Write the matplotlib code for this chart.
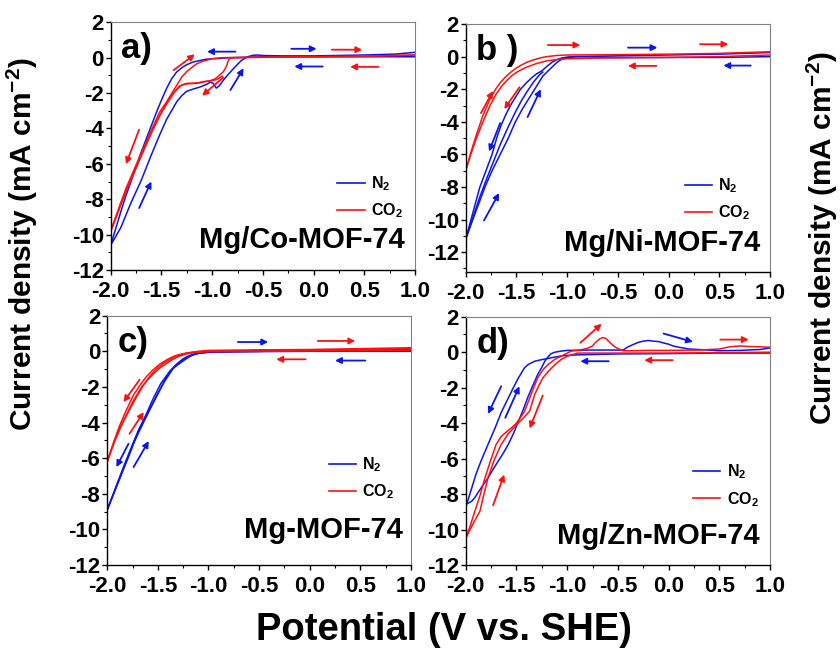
import matplotlib
matplotlib.use("Agg")
import matplotlib.pyplot as plt
from matplotlib.lines import Line2D
from matplotlib.ticker import MultipleLocator

plt.rcParams['font.family'] = ['Liberation Sans', 'DejaVu Sans']
plt.rcParams['font.weight'] = 'bold'
plt.rcParams['axes.unicode_minus'] = False
plt.rcParams['mathtext.fontset'] = 'custom'
plt.rcParams['mathtext.rm'] = 'Liberation Sans:bold'
plt.rcParams['mathtext.bf'] = 'Liberation Sans:bold'
plt.rcParams['mathtext.default'] = 'rm'

BLUE = '#0a14f0'
RED = '#ff1010'

# ---------------- panel a: Mg/Co-MOF-74 ----------------
a_n2_x1 = [1.0, 0.5, 0.0, -0.5, -0.8, -0.92, -1.0, -1.06, -1.12, -1.19, -1.25, -1.29, -1.35, -1.4, -1.45, -1.5, -1.55, -1.6, -1.7, -1.8, -1.85, -1.9, -2.0]
a_n2_y1 = [0.05, 0.05, 0.05, 0.05, 0.0, -0.04, -0.06, -0.09, -0.16, -0.25, -0.4, -0.53, -0.81, -1.2, -1.75, -2.4, -3.1, -3.85, -5.35, -7.0, -7.8, -8.7, -10.6]
a_n2_x2 = [-2.0, -1.9, -1.85, -1.8, -1.7, -1.6, -1.52, -1.45, -1.4, -1.35, -1.3, -1.25, -1.2, -1.12, -1.05, -1.02, -0.99, -0.96, -0.93, -0.89, -0.85, -0.79, -0.75, -0.71, -0.65, -0.6, -0.55, -0.5, -0.3, 0.0, 0.5, 0.8, 1.0]
a_n2_y2 = [-10.6, -9.6, -8.9, -8.2, -6.95, -5.5, -4.4, -3.5, -3.0, -2.5, -2.15, -1.9, -1.8, -1.66, -1.5, -1.38, -1.45, -1.72, -1.6, -1.28, -1.0, -0.62, -0.38, -0.15, 0.05, 0.13, 0.15, 0.12, 0.1, 0.1, 0.15, 0.2, 0.3]
a_co2_x1 = [1.0, 0.5, 0.0, -0.5, -0.9, -1.0, -1.1, -1.15, -1.2, -1.25, -1.3, -1.38, -1.45, -1.52, -1.6, -1.68, -1.76, -1.85, -1.92, -2.0]
a_co2_y1 = [0.15, 0.08, 0.05, 0.03, 0.0, -0.06, -0.22, -0.34, -0.55, -0.78, -1.1, -1.85, -2.5, -3.1, -4.1, -5.15, -6.2, -7.4, -8.5, -9.8]
a_co2_x2 = [-2.0, -1.92, -1.85, -1.76, -1.68, -1.6, -1.52, -1.45, -1.38, -1.32, -1.27, -1.22, -1.15, -1.09, -1.02, -0.97, -0.93, -0.89, -0.86, -0.84, -0.82, -0.7, -0.5, 0.0, 0.5, 1.0]
a_co2_y2 = [-9.8, -8.6, -7.55, -6.35, -5.3, -4.25, -3.3, -2.6, -2.0, -1.6, -1.5, -1.47, -1.45, -1.38, -1.3, -1.2, -1.0, -0.8, -0.5, -0.15, -0.02, 0.0, 0.02, 0.05, 0.08, 0.15]
a_co2_x3 = [-2.0, -1.9, -1.8, -1.7, -1.6, -1.5, -1.42, -1.36, -1.3, -1.25, -1.2, -1.14, -1.08, -1.0, -0.95, -0.9]
a_co2_y3 = [-9.8, -8.3, -6.9, -5.55, -4.25, -3.1, -2.35, -1.85, -1.55, -1.45, -1.45, -1.42, -1.35, -1.3, -1.22, -1.05]
a_arrows = [(RED, -1.38, -0.71, -1.17, 0.19), (BLUE, -0.77, 0.34, -1.05, 0.34),
            (BLUE, -0.82, -1.83, -0.69, -0.6), (RED, -0.89, -1.12, -1.10, -2.15),
            (RED, -1.72, -4.07, -1.85, -6.02), (BLUE, -1.72, -8.5, -1.6, -7.0),
            (BLUE, -0.22, 0.5, 0.03, 0.5), (RED, 0.18, 0.45, 0.48, 0.45),
            (BLUE, 0.09, -0.5, -0.19, -0.5), (RED, 0.64, -0.52, 0.36, -0.52)]

# ---------------- panel b: Mg/Ni-MOF-74 ----------------
b_n2_x1 = [-2.0, -1.93, -1.86, -1.8, -1.74, -1.69, -1.65, -1.6, -1.55, -1.5, -1.46, -1.4, -1.35, -1.3, -1.25, -1.2, -1.15, -1.1, -1.05, -1.0, -0.9, -0.5, 0.0, 0.5, 1.0]
b_n2_y1 = [-11.2, -9.6, -8.0, -7.0, -6.0, -4.9, -4.2, -3.5, -2.9, -2.4, -2.0, -1.6, -1.3, -1.05, -0.88, -0.6, -0.35, -0.18, -0.08, -0.03, 0.0, 0.05, 0.1, 0.15, 0.25]
b_n2_x2 = [-2.0, -1.93, -1.87, -1.81, -1.74, -1.66, -1.58, -1.51, -1.44, -1.38, -1.32, -1.28, -1.24, -1.2, -1.15, -1.1, -1.05, -1.0, -0.95, -0.9, -0.5, 0.0, 0.5, 1.0]
b_n2_y2 = [-11.2, -10.0, -9.0, -8.0, -7.0, -6.0, -5.0, -4.0, -3.2, -2.6, -2.0, -1.6, -1.2, -0.95, -0.65, -0.35, -0.15, -0.06, -0.02, 0.0, -0.05, -0.05, -0.05, 0.0]
b_n2_x3 = [-2.0, -1.93, -1.86, -1.8, -1.73, -1.66, -1.58, -1.51, -1.45, -1.39, -1.33, -1.27, -1.24]
b_n2_y3 = [-11.2, -9.9, -8.6, -7.6, -6.5, -5.4, -4.3, -3.4, -2.7, -2.1, -1.55, -1.1, -0.95]
b_co2_x1 = [-2.0, -1.95, -1.9, -1.83, -1.76, -1.7, -1.65, -1.6, -1.55, -1.5, -1.45, -1.4, -1.35, -1.3, -1.25, -1.2, -1.1, -1.0, -0.5, 0.0, 0.5, 1.0]
b_co2_y1 = [-7.0, -5.9, -4.9, -3.6, -2.6, -1.95, -1.53, -1.2, -0.93, -0.7, -0.51, -0.36, -0.24, -0.14, -0.06, 0.0, 0.07, 0.1, 0.12, 0.15, 0.2, 0.3]
b_co2_x2 = [-2.0, -1.95, -1.9, -1.83, -1.76, -1.7, -1.65, -1.6, -1.55, -1.5, -1.45, -1.4, -1.3, -1.2, -1.1, -1.0, -0.8, -0.5, 0.0, 0.5, 1.0]
b_co2_y2 = [-7.0, -6.0, -5.1, -4.0, -3.0, -2.3, -1.85, -1.5, -1.2, -0.97, -0.8, -0.65, -0.42, -0.26, -0.18, -0.13, -0.1, -0.08, -0.05, 0.0, 0.1]
b_arrows = [(RED, -1.19, 0.71, -0.87, 0.71), (BLUE, -0.40, 0.55, -0.11, 0.55),
            (RED, 0.31, 0.76, 0.59, 0.76), (RED, -0.12, -0.57, -0.40, -0.57),
            (BLUE, 0.81, -0.55, 0.54, -0.55), (RED, -1.85, -3.47, -1.73, -2.10),
            (RED, -1.47, -1.88, -1.62, -3.22), (BLUE, -1.66, -4.08, -1.77, -5.82),
            (BLUE, -1.39, -3.71, -1.26, -2.0), (BLUE, -1.82, -10.06, -1.67, -8.37)]

# ---------------- panel c: Mg-MOF-74 ----------------
c_n2_x1 = [-2.0, -1.9, -1.8, -1.74, -1.66, -1.58, -1.5, -1.41, -1.35, -1.3, -1.27, -1.22, -1.18, -1.13, -1.08, -1.0, -0.8, -0.5, 0.0, 0.5, 1.0]
c_n2_y1 = [-8.9, -7.45, -6.05, -5.15, -4.2, -3.28, -2.35, -1.4, -0.95, -0.75, -0.62, -0.42, -0.28, -0.16, -0.09, -0.04, 0.0, 0.05, 0.07, 0.1, 0.15]
c_n2_x2 = [-2.0, -1.92, -1.84, -1.77, -1.69, -1.62, -1.55, -1.47, -1.38, -1.32, -1.27, -1.22, -1.18, -1.13, -1.08, -1.0, -0.8, -0.5, 0.0, 0.5, 1.0]
c_n2_y2 = [-8.9, -7.7, -6.5, -5.5, -4.4, -3.6, -2.7, -1.8, -1.1, -0.75, -0.55, -0.38, -0.25, -0.15, -0.1, -0.06, -0.04, -0.02, 0.0, 0.0, 0.0]
c_n2_x3 = [-2.0, -1.93, -1.86, -1.79, -1.72, -1.65, -1.58, -1.51, -1.44, -1.36, -1.3, -1.25, -1.2, -1.15, -1.1, -1.0, -0.8, -0.5, 0.0, 0.5, 1.0]
c_n2_y3 = [-8.9, -7.9, -6.9, -5.9, -4.9, -4.0, -3.25, -2.5, -1.75, -1.05, -0.65, -0.42, -0.27, -0.17, -0.1, -0.05, -0.02, 0.0, 0.02, 0.05, 0.1]
c_co2_x1 = [-2.0, -1.94, -1.88, -1.81, -1.74, -1.67, -1.61, -1.55, -1.48, -1.41, -1.35, -1.3, -1.22, -1.1, -1.0, -0.5, 0.0, 0.5, 1.0]
c_co2_y1 = [-6.18, -5.15, -4.2, -3.28, -2.45, -1.85, -1.4, -1.05, -0.72, -0.47, -0.3, -0.2, -0.1, 0.0, 0.05, 0.08, 0.1, 0.15, 0.2]
c_co2_x2 = [-2.0, -1.93, -1.86, -1.78, -1.7, -1.64, -1.58, -1.52, -1.45, -1.38, -1.32, -1.25, -1.15, -1.0, -0.5, 0.0, 0.5, 1.0]
c_co2_y2 = [-6.18, -5.05, -4.15, -3.28, -2.45, -1.88, -1.4, -1.02, -0.7, -0.45, -0.3, -0.15, -0.05, 0.0, 0.0, 0.02, 0.03, 0.05]
c_co2_x3 = [-2.0, -1.92, -1.84, -1.74, -1.66, -1.6, -1.55, -1.49, -1.42, -1.36, -1.3, -1.22, -1.12, -1.0, -0.5, 0.0, 0.5, 1.0]
c_co2_y3 = [-6.18, -4.95, -3.9, -2.75, -2.0, -1.6, -1.3, -0.98, -0.7, -0.47, -0.3, -0.15, -0.06, -0.02, 0.0, 0.05, 0.1, 0.15]
c_arrows = [(BLUE, -0.71, 0.52, -0.41, 0.52), (RED, 0.08, 0.58, 0.45, 0.58),
            (RED, -0.04, -0.45, -0.33, -0.45), (BLUE, 0.55, -0.52, 0.25, -0.52),
            (RED, -1.68, -1.59, -1.84, -2.85), (RED, -1.78, -4.63, -1.64, -3.41),
            (BLUE, -1.79, -5.19, -1.91, -6.5), (BLUE, -1.74, -6.5, -1.59, -5.04)]

# ---------------- panel d: Mg/Zn-MOF-74 ----------------
d_n2_x1 = [1.0, 0.5, 0.0, -0.5, -0.9, -1.05, -1.16, -1.25, -1.32, -1.38, -1.42, -1.48, -1.53, -1.58, -1.65, -1.71, -1.78, -1.85, -1.9, -1.94, -1.97, -1.99]
d_n2_y1 = [-0.05, -0.05, -0.08, -0.1, -0.15, -0.2, -0.32, -0.42, -0.51, -0.68, -0.88, -1.45, -2.0, -2.58, -3.4, -4.27, -5.2, -6.15, -6.9, -7.65, -8.2, -8.55]
d_n2_x2 = [-1.99, -1.97, -1.94, -1.91, -1.88, -1.83, -1.78, -1.73, -1.68, -1.63, -1.58, -1.53, -1.48, -1.43, -1.39, -1.34, -1.29, -1.25, -1.22, -1.19, -1.16, -1.12, -1.06, -1.0, -0.8, -0.6, -0.5, -0.45, -0.4, -0.35, -0.3, -0.25, -0.2, -0.15, -0.1, -0.05, 0.0, 0.05, 0.1, 0.2, 0.3, 0.5, 0.7, 0.9, 1.0]
d_n2_y2 = [-8.55, -8.5, -8.4, -8.2, -7.93, -7.5, -7.09, -6.6, -6.15, -5.7, -5.2, -4.6, -3.9, -3.2, -2.58, -1.9, -1.26, -0.85, -0.51, -0.28, -0.09, 0.0, 0.06, 0.1, 0.12, 0.12, 0.12, 0.12, 0.3, 0.43, 0.55, 0.62, 0.66, 0.62, 0.6, 0.52, 0.45, 0.34, 0.28, 0.18, 0.15, 0.08, 0.1, 0.15, 0.24]
d_co2_x1 = [-2.0, -1.95, -1.91, -1.86, -1.81, -1.76, -1.7, -1.65, -1.6, -1.55, -1.5, -1.45, -1.42, -1.37, -1.33, -1.29, -1.24, -1.19, -1.12, -1.06, -0.96, -0.9, -0.85, -0.8, -0.75, -0.72, -0.68, -0.65, -0.62, -0.58, -0.53, -0.48, -0.44, -0.4, -0.2, 0.0, 0.3, 0.5, 0.6, 0.7, 0.8, 0.9, 1.0]
d_co2_y1 = [-10.5, -9.7, -8.97, -8.1, -7.09, -6.2, -5.2, -4.75, -4.5, -4.27, -4.0, -3.6, -3.33, -2.6, -2.0, -1.45, -1.0, -0.7, -0.4, -0.23, 0.06, 0.1, 0.15, 0.22, 0.35, 0.55, 0.75, 0.82, 0.78, 0.55, 0.3, 0.15, 0.08, 0.08, 0.1, 0.1, 0.12, 0.18, 0.3, 0.35, 0.32, 0.3, 0.28]
d_co2_x2 = [-2.0, -1.93, -1.86, -1.82, -1.78, -1.72, -1.65, -1.58, -1.5, -1.43, -1.37, -1.32, -1.28, -1.24, -1.18, -1.12, -1.06, -1.0, -0.9, -0.7, -0.5, 0.0, 0.5, 1.0]
d_co2_y2 = [-10.5, -9.7, -8.97, -8.0, -7.09, -6.1, -5.2, -4.6, -4.1, -3.7, -3.33, -2.39, -1.9, -1.45, -1.05, -0.7, -0.42, -0.23, -0.05, -0.05, -0.05, -0.05, -0.03, 0.0]
d_arrows = [(RED, -0.87, 0.53, -0.66, 1.6), (BLUE, -0.05, 1.05, 0.24, 0.58),
            (RED, 0.51, 0.71, 0.79, 0.71), (BLUE, -0.59, -0.51, -0.87, -0.51),
            (RED, 0.04, -0.45, -0.24, -0.45), (BLUE, -1.65, -1.92, -1.78, -3.48),
            (BLUE, -1.61, -3.70, -1.47, -1.92), (RED, -1.24, -2.44, -1.37, -4.30),
            (RED, -1.73, -8.63, -1.62, -6.9)]

x_ticks = [-2.0, -1.5, -1.0, -0.5, 0.0, 0.5, 1.0]
x_ticklabels = ['-2.0', '-1.5', '-1.0', '-0.5', '0.0', '0.5', '1.0']
y_ticks = [2, 0, -2, -4, -6, -8, -10, -12]
y_ticklabels = ['2', '0', '-2', '-4', '-6', '-8', '-10', '-12']

panels = [
    dict(rect=[0.1318, 0.5853, 0.3623, 0.3805], ylim=(-12, 2), letter='a)', name='Mg/Co-MOF-74',
         n2=[(a_n2_x1, a_n2_y1), (a_n2_x2, a_n2_y2)],
         co2=[(a_co2_x1, a_co2_y1), (a_co2_x2, a_co2_y2), (a_co2_x3, a_co2_y3)],
         arrows=a_arrows, leg=(0.745, 0.293), namepos=(0.967, 0.12)),
    dict(rect=[0.5544, 0.5826, 0.3623, 0.3805], ylim=(-13.2, 2), letter='b )', name='Mg/Ni-MOF-74',
         n2=[(b_n2_x1, b_n2_y1), (b_n2_x2, b_n2_y2), (b_n2_x3, b_n2_y3)],
         co2=[(b_co2_x1, b_co2_y1), (b_co2_x2, b_co2_y2)],
         arrows=b_arrows, leg=(0.72, 0.292), namepos=(0.967, 0.116)),
    dict(rect=[0.1277, 0.1321, 0.3615, 0.3830], ylim=(-12, 2), letter='c)', name='Mg-MOF-74',
         n2=[(c_n2_x1, c_n2_y1), (c_n2_x2, c_n2_y2), (c_n2_x3, c_n2_y3)],
         co2=[(c_co2_x1, c_co2_y1), (c_co2_x2, c_co2_y2), (c_co2_x3, c_co2_y3)],
         arrows=c_arrows, leg=(0.729, 0.348), namepos=(0.974, 0.14)),
    dict(rect=[0.5544, 0.1321, 0.3623, 0.3814], ylim=(-12, 2), letter='d)', name='Mg/Zn-MOF-74',
         n2=[(d_n2_x1, d_n2_y1), (d_n2_x2, d_n2_y2)],
         co2=[(d_co2_x1, d_co2_y1), (d_co2_x2, d_co2_y2)],
         arrows=d_arrows, leg=(0.747, 0.32), namepos=(0.967, 0.117)),
]

fig = plt.figure(figsize=(8.4, 6.51), dpi=100)

for p in panels:
    ax = fig.add_axes(p['rect'])
    for x, y in p['n2']:
        ax.plot(x, y, color=BLUE, lw=1.1)
    for x, y in p['co2']:
        ax.plot(x, y, color=RED, lw=1.1)
    for col, x0, y0, x1, y1 in p['arrows']:
        ax.annotate('', xy=(x1, y1), xytext=(x0, y0),
                    arrowprops=dict(arrowstyle='-|>', color=col, lw=1.3,
                                    mutation_scale=9, shrinkA=0, shrinkB=0))
    ax.set_xlim(-2.0, 1.0)
    ax.set_ylim(*p['ylim'])
    ax.xaxis.set_minor_locator(MultipleLocator(0.25))
    ax.yaxis.set_minor_locator(MultipleLocator(1))
    ax.set_xticks(x_ticks)
    ax.set_xticklabels(x_ticklabels)
    ax.set_yticks(y_ticks)
    ax.set_yticklabels(y_ticklabels)
    ax.tick_params(axis='both', which='major', direction='out', length=3.5, width=1,
                   labelsize=16)
    ax.tick_params(axis='x', which='major', pad=4.5)
    ax.tick_params(axis='y', which='major', pad=1.5)
    ax.tick_params(axis='both', which='minor', direction='out', length=2.2, width=0.8)
    for lab in ax.get_xticklabels() + ax.get_yticklabels():
        lab.set_fontweight('bold')
    ax.spines['top'].set_color('#808080')
    ax.spines['right'].set_color('#808080')
    ax.spines['top'].set_linewidth(0.8)
    ax.spines['right'].set_linewidth(0.8)
    ax.spines['left'].set_linewidth(1.0)
    ax.spines['bottom'].set_linewidth(1.0)
    ax.text(0.035, 0.96, p['letter'], transform=ax.transAxes, ha='left', va='top',
            fontsize=25, fontweight='bold')
    ax.text(p['namepos'][0], p['namepos'][1], p['name'], transform=ax.transAxes,
            ha='right', va='center', fontsize=21, fontweight='bold')
    handles = [Line2D([], [], color=BLUE, lw=1.2), Line2D([], [], color=RED, lw=1.2)]
    ax.legend(handles, ['N$_2$', 'CO$_2$'], loc='center left', bbox_to_anchor=p['leg'],
              frameon=False, handlelength=1.7, handletextpad=0.4,
              labelspacing=0.55, borderpad=0, borderaxespad=0,
              prop=dict(family='Liberation Sans', weight='bold', size=11.5))

ylab = 'Current density (mA cm$^{-2}$)'
fig.text(22 / 840, 1 - 244 / 651, ylab, rotation=90, ha='center', va='center',
         fontsize=21.5, fontweight='bold')
fig.text(822 / 840, 1 - 238 / 651, ylab, rotation=90, ha='center', va='center',
         fontsize=21.5, fontweight='bold')
fig.text(444 / 840, 1 - 630 / 651, 'Potential (V vs. SHE)', ha='center', va='center',
         fontsize=27.5, fontweight='bold')

fig.savefig('out.png', dpi=100)
